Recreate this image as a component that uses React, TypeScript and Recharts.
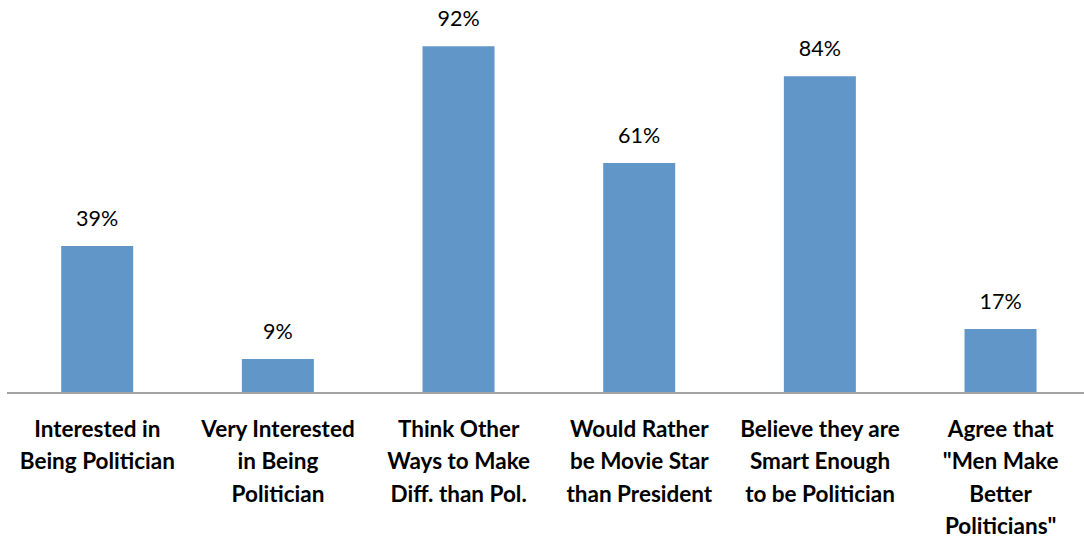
import { BarChart, Bar, XAxis, YAxis, LabelList } from 'recharts';

const categories = [
  'Interested in|Being Politician',
  'Very Interested|in Being|Politician',
  'Think Other|Ways to Make|Diff. than Pol.',
  'Would Rather|be Movie Star|than President',
  'Believe they are|Smart Enough|to be Politician',
  'Agree that|"Men Make|Better|Politicians"',
];
const values = [39, 9, 92, 61, 84, 17];

const data = categories.map((name, i) => ({ name, value: values[i] }));

const CategoryTick = ({ x, y, payload }: any) => {
  const lines = String(payload.value).split('|');
  return (
    <text x={x} y={y} textAnchor="middle" fill="#000" fontFamily="Lato, sans-serif" fontWeight="bold" fontSize={22.5}>
      {lines.map((line: string, i: number) => (
        <tspan key={i} x={x} y={y + 36 + i * 32.3}>
          {line}
        </tspan>
      ))}
    </text>
  );
};

const ValueLabel = ({ x, y, width, value }: any) => (
  <text x={x + width / 2} y={y - 20} textAnchor="middle" fill="#000" fontFamily="Lato, sans-serif" fontSize={21.5}>
    {`${value}%`}
  </text>
);

export default function App() {
  return (
    <div style={{ position: 'absolute', left: 0, top: 0, background: '#fff', width: 1084, height: 541, overflow: 'hidden' }}>
      <BarChart
        width={1091}
        height={541}
        data={data}
        margin={{ top: 16, right: 0, bottom: 0, left: 7 }}
        barCategoryGap="30%"
      >
        <XAxis
          dataKey="name"
          interval={0}
          tickLine={false}
          axisLine={{ stroke: '#a3a3a3', strokeWidth: 2 }}
          tick={<CategoryTick />}
          height={148}
        />
        <YAxis hide domain={[0, 100]} />
        <Bar dataKey="value" fill="#6096c8" isAnimationActive={false}>
          <LabelList dataKey="value" content={<ValueLabel />} />
        </Bar>
      </BarChart>
    </div>
  );
}
